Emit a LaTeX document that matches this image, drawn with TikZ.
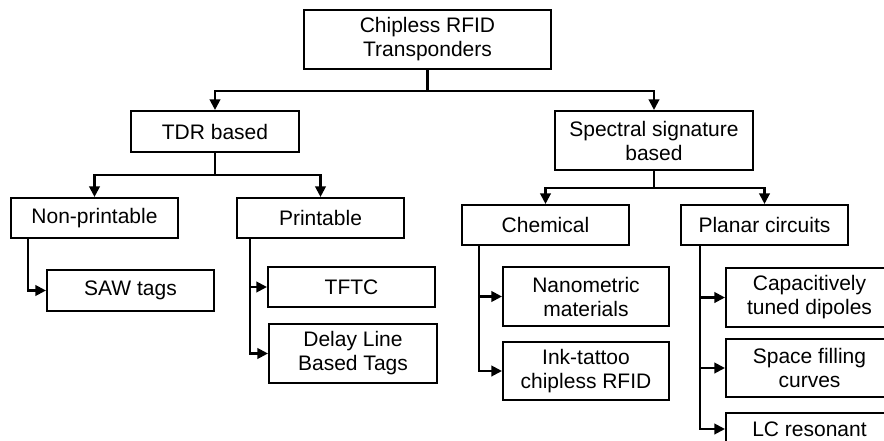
\documentclass[tikz,border=0pt]{standalone}
\usepackage{fontspec}
\setmainfont{Liberation Sans}
\usetikzlibrary{arrows.meta}
\begin{document}
\begin{tikzpicture}[x=1pt,y=-1pt,
  box/.style={draw,line width=2.1pt,inner sep=0pt,align=center,
    font=\fontsize{21}{24}\selectfont},
  conn/.style={line width=2.1pt},
  arr/.style={conn,-{Triangle[length=10.5pt,width=10.5pt]}}]
\clip (0,0) rectangle (884,441);
\fill[white] (0,0) rectangle (884,441);

% tree levels
\node[box,minimum width=247pt,minimum height=59pt] (root) at (427.5,39.5) {Chipless RFID\\Transponders};
\node[box,minimum width=168pt,minimum height=41pt] (tdr) at (215,131.5) {TDR based};
\node[box,minimum width=198pt,minimum height=59pt] (spec) at (654,140.5) {Spectral signature\\based};

\node[box,minimum width=167pt,minimum height=40pt] (nonp) at (94.5,218) {Non-printable};
\node[box,minimum width=167pt,minimum height=40pt] (print) at (320.5,218) {Printable};
\node[box,minimum width=167pt,minimum height=40pt] (chem) at (545.5,225) {Chemical};
\node[box,minimum width=167pt,minimum height=40pt] (planar) at (764.5,225) {Planar circuits};

\node[box,minimum width=167pt,minimum height=41pt] (saw) at (130.5,290.5) {SAW tags};
\node[box,minimum width=167pt,minimum height=40pt] (tftc) at (351.5,287) {TFTC};
\node[box,minimum width=168pt,minimum height=59pt] (delay) at (353,353.5) {Delay Line\\Based Tags};
\node[box,minimum width=166pt,minimum height=59pt] (nano) at (586,296.5) {Nanometric\\materials};
\node[box,minimum width=166pt,minimum height=58pt] (ink) at (586,371) {Ink-tattoo\\chipless RFID};
\node[box,minimum width=167pt,minimum height=59pt] (cap) at (809.5,297.5) {Capacitively\\tuned dipoles};
\node[box,minimum width=167pt,minimum height=58pt] (space) at (809.5,368) {Space filling\\curves};
\node[box,minimum width=167pt,minimum height=32pt] (lc) at (809.5,429) {LC resonant};

% forks from parents to children
\draw[arr] (root.south) -- ++(0,21) -| (tdr.north);
\draw[arr] (root.south) -- ++(0,21) -| (spec.north);
\draw[arr] (tdr.south) -- ++(0,22) -| (nonp.north);
\draw[arr] (tdr.south) -- ++(0,22) -| (print.north);
\draw[arr] (spec.south) -- ++(0,17) -| (chem.north);
\draw[arr] (spec.south) -- ++(0,17) -| (planar.north);

% side branches to leaves
\draw[arr] ([xshift=18pt]nonp.south west) |- (saw.west);
\draw[arr] ([xshift=14pt]print.south west) |- (tftc.west);
\draw[arr] ([xshift=14pt]print.south west) |- (delay.west);
\draw[arr] ([xshift=18pt]chem.south west) |- (nano.west);
\draw[arr] ([xshift=18pt]chem.south west) |- (ink.west);
\draw[arr] ([xshift=20pt]planar.south west) |- (cap.west);
\draw[arr] ([xshift=20pt]planar.south west) |- (space.west);
\draw[arr] ([xshift=20pt]planar.south west) |- (lc.west);
\end{tikzpicture}
\end{document}
